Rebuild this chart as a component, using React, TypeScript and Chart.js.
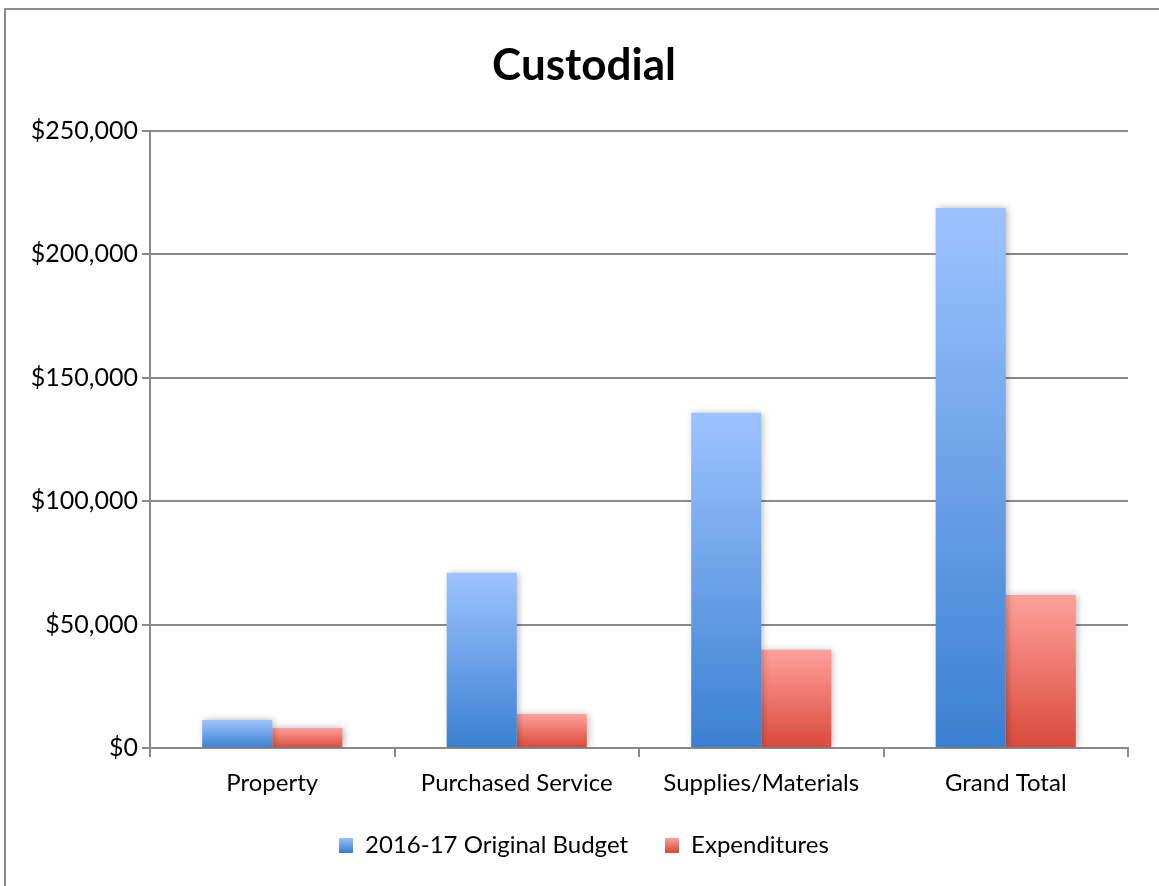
import React, { useEffect, useRef } from "react";
import { Chart, registerables } from "chart.js";

Chart.register(...registerables);

const categories = ["Property", "Purchased Service", "Supplies/Materials", "Grand Total"];
const budgetValues = [11300, 71000, 135800, 218800];
const expenditureValues = [8100, 13800, 39800, 62000];
const seriesNames = ["2016-17 Original Budget", "Expenditures"];
const yTicks = [0, 50000, 100000, 150000, 200000, 250000];

const FONT = "Lato, 'Open Sans', sans-serif";
const BLUE_TOP = "#9dc3ff";
const BLUE_BOTTOM = "#3a80d0";
const RED_TOP = "#ffa19b";
const RED_BOTTOM = "#d9493b";
const GRID = "#8a8a8a";

function barGradient(top: string, bottom: string) {
  return (c: any) => {
    const chart = c.chart;
    const y = chart.scales && chart.scales.y;
    if (c.type !== "data" || !y || !chart.chartArea) return top;
    const yTop = y.getPixelForValue(c.raw);
    const yBase = y.getPixelForValue(0);
    if (!isFinite(yTop) || !isFinite(yBase) || yTop === yBase) return top;
    const g = chart.ctx.createLinearGradient(0, yTop, 0, yBase);
    g.addColorStop(0, top);
    g.addColorStop(1, bottom);
    return g;
  };
}

function legendSwatch(top: string, bottom: string) {
  const cv = document.createElement("canvas");
  cv.width = 14;
  cv.height = 15;
  const x = cv.getContext("2d")!;
  const g = x.createLinearGradient(0, 0, 0, 15);
  g.addColorStop(0, top);
  g.addColorStop(1, bottom);
  x.fillStyle = g;
  x.fillRect(0, 0, 14, 15);
  return cv;
}

const shadowPlugin = {
  id: "barShadow",
  beforeDatasetsDraw(chart: any) {
    const ctx = chart.ctx;
    ctx.save();
    ctx.shadowColor = "rgba(0,0,0,0.28)";
    ctx.shadowBlur = 7;
    ctx.shadowOffsetX = 2;
    ctx.shadowOffsetY = 0;
  },
  afterDatasetsDraw(chart: any) {
    chart.ctx.restore();
  },
};

export default function App() {
  const ref = useRef<HTMLCanvasElement | null>(null);

  useEffect(() => {
    document.body.style.margin = "0";
    const swatches = [legendSwatch(BLUE_TOP, BLUE_BOTTOM), legendSwatch(RED_TOP, RED_BOTTOM)];
    const chart = new Chart(ref.current!, {
      type: "bar",
      data: {
        labels: categories,
        datasets: [
          {
            label: seriesNames[0],
            data: budgetValues,
            backgroundColor: barGradient(BLUE_TOP, BLUE_BOTTOM),
            borderWidth: 0,
          },
          {
            label: seriesNames[1],
            data: expenditureValues,
            backgroundColor: barGradient(RED_TOP, RED_BOTTOM),
            borderWidth: 0,
          },
        ],
      },
      options: {
        animation: false,
        responsive: false,
        layout: { padding: { left: 18, right: 9, top: 0, bottom: 19 } },
        datasets: { bar: { barPercentage: 1, categoryPercentage: 0.573 } },
        plugins: {
          title: {
            display: true,
            text: "Custodial",
            color: "#000",
            font: { family: FONT, size: 44, weight: "bold", lineHeight: 1.2 },
            padding: { top: 39, bottom: 39.2 },
          },
          legend: {
            position: "bottom",
            labels: {
              color: "#000",
              font: { family: FONT, size: 24 },
              padding: 37,
              boxWidth: 14,
              boxHeight: 15,
              usePointStyle: true,
              generateLabels: (ch: any) =>
                ch.data.datasets.map((ds: any, i: number) => ({
                  text: ds.label,
                  pointStyle: swatches[i],
                  fillStyle: i === 0 ? BLUE_TOP : RED_TOP,
                  strokeStyle: "transparent",
                  lineWidth: 0,
                  hidden: false,
                  datasetIndex: i,
                  fontColor: "#000",
                })),
            },
          },
          tooltip: { enabled: false },
        },
        scales: {
          x: {
            afterFit: (s: any) => {
              s.height = 48;
            },
            grid: {
              display: true,
              drawOnChartArea: false,
              drawTicks: true,
              tickLength: 9,
              color: GRID,
              lineWidth: 2,
            },
            border: { display: true, color: GRID, width: 2 },
            ticks: { color: "#000", font: { family: FONT, size: 24 }, padding: 12 },
          },
          y: {
            min: 0,
            max: 250000,
            afterFit: (s: any) => {
              s.width = 132;
            },
            afterBuildTicks: (s: any) => {
              s.ticks = yTicks.map((v) => ({ value: v }));
            },
            grid: { color: GRID, lineWidth: 2, tickLength: 8 },
            border: { display: true, color: GRID, width: 2 },
            ticks: {
              color: "#000",
              font: { family: FONT, size: 25 },
              padding: 4,
              callback: (v: any) => "$" + Number(v).toLocaleString("en-US"),
            },
          },
          spacer: {
            type: "linear",
            position: "right",
            display: true,
            afterFit: (s: any) => {
              s.width = 22;
            },
            grid: { display: false, drawTicks: false },
            border: { display: false },
            ticks: { display: false },
          },
        },
      },
      plugins: [shadowPlugin],
    });
    return () => chart.destroy();
  }, []);

  return (
    <div style={{ position: "relative", width: 1159, height: 886, overflow: "hidden", background: "#fff" }}>
      <div
        style={{
          position: "absolute",
          left: 4,
          top: 8,
          width: 1170,
          height: 900,
          border: "2px solid #8c8c8c",
          boxSizing: "border-box",
        }}
      />
      <canvas ref={ref} width={1159} height={886} style={{ position: "absolute", left: 0, top: 0 }} />
    </div>
  );
}
